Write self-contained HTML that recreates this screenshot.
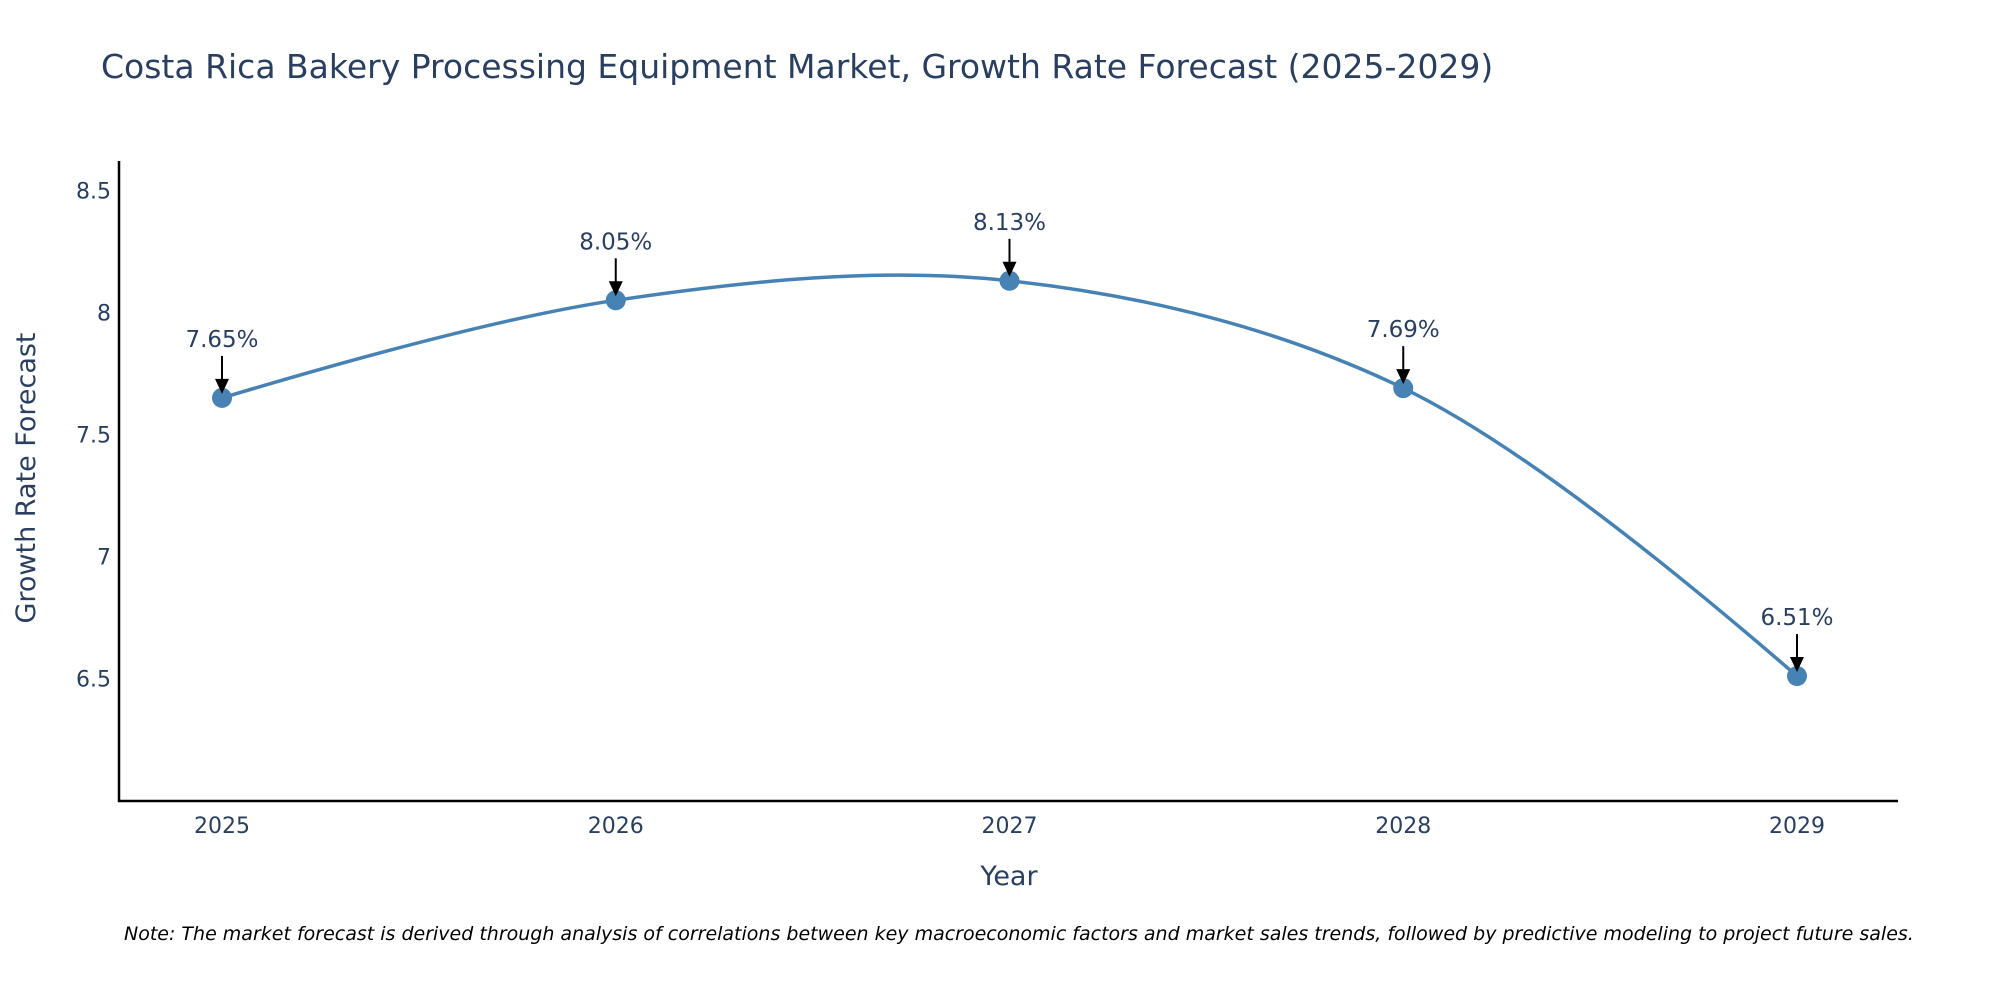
<!DOCTYPE html>
<html><head><meta charset="utf-8"><style>
body{margin:0;background:#fff;}
svg{display:block;font-family:"DejaVu Sans","Liberation Sans",sans-serif;}
</style></head><body>
<svg id="chart" width="2000" height="1000" viewBox="0 0 2000 1000" xmlns="http://www.w3.org/2000/svg">
<text x="101" y="78" font-size="33" fill="#2a3f5f">Costa Rica Bakery Processing Equipment Market, Growth Rate Forecast (2025-2029)</text>
<g id="yticks"></g>
<g id="xticks"></g>
<line x1="119" y1="161" x2="119" y2="802" stroke="#000" stroke-width="2.5"/>
<line x1="118" y1="801" x2="1898" y2="801" stroke="#000" stroke-width="2.5"/>
<text transform="translate(35,478) rotate(-90)" text-anchor="middle" font-size="27" fill="#2a3f5f">Growth Rate Forecast</text>
<text x="1009" y="885" text-anchor="middle" font-size="27" fill="#2a3f5f">Year</text>
<g id="series"></g>
<g id="annots"></g>
<text x="124" y="940" font-size="19" font-style="italic" fill="#000">Note: The market forecast is derived through analysis of correlations between key macroeconomic factors and market sales trends, followed by predictive modeling to project future sales.</text>
</svg>
<script>
const years = [2025, 2026, 2027, 2028, 2029];
const growth = [7.65, 8.05, 8.13, 7.69, 6.51];
const labels = ["7.65%", "8.05%", "8.13%", "7.69%", "6.51%"];
const yTicks = [6.5, 7, 7.5, 8, 8.5];
const yTickLabels = ["6.5", "7", "7.5", "8", "8.5"];

const NS = "http://www.w3.org/2000/svg";
function xs(yr){ return 222 + (yr - 2025) * 393.75; }
function ys(v){ return 312.5 - (v - 8) * 244; }
function mk(tag, attrs, parent){ const e = document.createElementNS(NS, tag); for (const k in attrs) e.setAttribute(k, attrs[k]); parent.appendChild(e); return e; }

const yg = document.getElementById('yticks');
yTicks.forEach((t, i) => {
  const el = mk('text', {x: 111, y: ys(t) + 8, 'text-anchor': 'end', 'font-size': 22, fill: '#2a3f5f'}, yg);
  
  
  el.textContent = yTickLabels[i];
});
const xg = document.getElementById('xticks');
years.forEach(yr => {
  const el = mk('text', {x: xs(yr), y: 833, 'text-anchor': 'middle', 'font-size': 22, fill: '#2a3f5f'}, xg);
  
  
  el.textContent = String(yr);
});

const pts = years.map((yr, i) => [xs(yr), ys(growth[i])]);
function tangent(p, t, n, s){
  const d1x=p[0]-t[0], d1y=p[1]-t[1], d2x=n[0]-t[0], d2y=n[1]-t[1];
  const d1a=Math.pow(d1x*d1x+d1y*d1y,0.25), d2a=Math.pow(d2x*d2x+d2y*d2y,0.25);
  const nx=(d2a*d2a*d1x-d1a*d1a*d2x)*s, ny=(d2a*d2a*d1y-d1a*d1a*d2y)*s;
  const a=3*d2a*(d1a+d2a), b=3*d1a*(d1a+d2a);
  return [[t[0]+nx/a, t[1]+ny/a],[t[0]-nx/b, t[1]-ny/b]];
}
const tg = [];
for (let i = 1; i < pts.length - 1; i++) tg.push(tangent(pts[i-1], pts[i], pts[i+1], 1));
let d = 'M' + pts[0] + 'Q' + tg[0][0] + ' ' + pts[1];
for (let i = 2; i < pts.length - 1; i++) d += 'C' + tg[i-2][1] + ' ' + tg[i-1][0] + ' ' + pts[i];
d += 'Q' + tg[tg.length-1][1] + ' ' + pts[pts.length-1];
const sg = document.getElementById('series');
const line = mk('path', {d: d, fill: 'none', stroke: '#4682b4', 'stroke-width': 3.5}, sg);


pts.forEach(p => {
  const c = mk('circle', {cx: p[0], cy: p[1], r: 10, fill: '#4682b4'}, sg);
  
  
});

const ag = document.getElementById('annots');
pts.forEach((p, i) => {
  const l = mk('line', {x1: p[0], y1: p[1] - 42, x2: p[0], y2: p[1] - 16, stroke: '#000', 'stroke-width': 2}, ag);
  
  
  const h = mk('polygon', {points: (p[0]-7)+','+(p[1]-19)+' '+(p[0]+7)+','+(p[1]-19)+' '+p[0]+','+(p[1]-4), fill: '#000'}, ag);
  
  
  const t = mk('text', {x: p[0], y: p[1] - 51, 'text-anchor': 'middle', 'font-size': 23, fill: '#2a3f5f'}, ag);
  
  
  t.textContent = labels[i];
});
</script>
</body></html>
